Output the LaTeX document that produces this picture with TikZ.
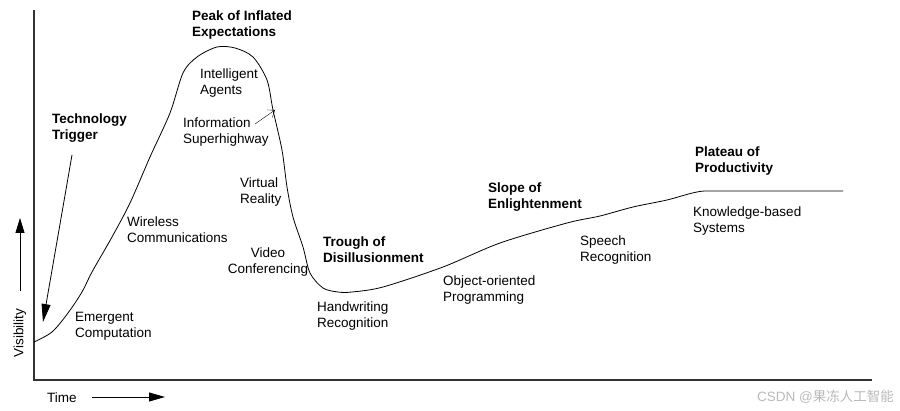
\documentclass[tikz,border=0pt]{standalone}
\usepackage{fontspec}
\setmainfont{Liberation Sans}
\newfontfamily\cjkfont{Noto Sans CJK SC}
\usetikzlibrary{arrows.meta}

\begin{document}
\begin{tikzpicture}[x=1pt, y=-1pt, >=Stealth,
    every node/.style={inner sep=0pt, font=\fontsize{13.5}{16.5}\selectfont},
    phase/.style={anchor=base west, align=left, font=\fontsize{13.5}{16.5}\selectfont\bfseries},
    tech/.style={anchor=base west, align=left}]
  \useasboundingbox (0,0) rectangle (900,411);

  % Axes
  \draw[line width=1.4pt, gray!40!black] (34,10) -- (34,380) -- (872,380);
  \node[rotate=90] (vis) at (20,333) {Visibility};
  \node[anchor=base west] (time) at (47,403) {Time};
  \coordinate (vistail) at (20,291);
  \coordinate (vistip) at (20,218);
  \draw[-{Triangle[length=15pt,width=9pt]}, thick] (vistail) -- (vistip);
  \coordinate (timetail) at (92,397);
  \coordinate (timetip) at (165,397);
  \draw[-{Triangle[length=16pt,width=9pt]}, thick] (timetail) -- (timetip);

  % Hype curve
  \draw[thick] plot[smooth, tension=0.5] coordinates {
    (34,342) (52,332) (68,313) (82,292) (92,272) (112,237) (130,203)
    (150,157) (170,113) (183,73) (197,57) (217,47) (235,48) (253,57)
    (267,80) (273,110) (282,150) (287,187) (293,217) (303,247) (310,273)
    (323,288) (338,292) (352,292) (383,287) (443,267) (500,243) (567,223)
    (600,216) (633,207) (667,200) (697,192) (720,191) (843,191)};

  % Phases (base = baseline of the second line)
  \node[phase] (peak) at (192,37) {Peak of Inflated\\Expectations};
  \node[phase] (trigger) at (52,140) {Technology\\Trigger};
  \node[phase] (trough) at (323,263) {Trough of\\Disillusionment};
  \node[phase] (slope) at (488,209) {Slope of\\Enlightenment};
  \node[phase] (plateau) at (695,173) {Plateau of\\Productivity};

  % Technologies
  \node[tech] (agents) at (200,95) {Intelligent\\Agents};
  \node[tech] (info) at (183,144) {Information\\Superhighway};
  \node[tech] (vr) at (240,204) {Virtual\\Reality};
  \node[tech] (wireless) at (127,243) {Wireless\\Communications};
  \node[anchor=base, align=center] (video) at (268,274) {Video\\Conferencing};
  \node[tech] (emergent) at (75,338) {Emergent\\Computation};
  \node[tech] (hand) at (317,328) {Handwriting\\Recognition};
  \node[tech] (oop) at (443,302) {Object-oriented\\Programming};
  \node[tech] (speech) at (580,262) {Speech\\Recognition};
  \node[tech] (kbs) at (693,233) {Knowledge-based\\Systems};

  % Arrows
  \coordinate (trigfoot) at (72,155);
  \coordinate (trigtip) at (43,322);
  \draw[-{Triangle[length=18pt,width=9pt]}, thick] (trigfoot) -- (trigtip);
  \coordinate (infofoot) at (255,124);
  \coordinate (infotip) at (275,110);
  \draw[-{Straight Barb[length=6pt,width=9pt]}] (infofoot) -- (infotip);

  % Watermark
  \node[anchor=base east, text=gray!55, font=\fontsize{13.5}{16.5}\selectfont] (mark) at (894,402) {CSDN @{\cjkfont 果冻人工智能}};
\end{tikzpicture}
\end{document}
